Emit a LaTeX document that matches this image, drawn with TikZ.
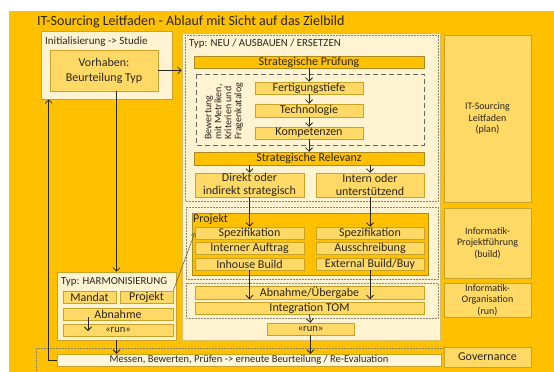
\documentclass[tikz,border=0pt]{standalone}
\usepackage{fontspec}
\setmainfont{Carlito}
\usetikzlibrary{arrows.meta}
\definecolor{bgorange}{HTML}{FFC000}
\definecolor{cream}{HTML}{FFF3D2}
\definecolor{paper}{HTML}{FFF6DC}
\definecolor{midfill}{HTML}{FFD966}
\definecolor{edge}{HTML}{C9A227}
\definecolor{ink}{HTML}{2A261E}
\definecolor{dotgray}{HTML}{8A8470}

\begin{document}
\begin{tikzpicture}[x=1pt,y=-1pt,
  every node/.style={inner sep=0pt, text=ink},
  panel/.style={draw=edge, fill=cream, line width=0.6pt},
  box/.style={draw=edge, fill=midfill, line width=0.5pt, font=\fontsize{12}{12.5}\selectfont, align=center},
  bar/.style={draw=edge!85!black, fill=bgorange, line width=0.5pt, font=\fontsize{12}{12.5}\selectfont},
  band/.style={draw=dotgray, densely dotted, line width=0.5pt},
  lbl/.style={anchor=west, font=\fontsize{10.8}{12}\selectfont},
  side/.style={draw=edge, fill=midfill, line width=0.5pt, font=\fontsize{10}{11.5}\selectfont, align=center, minimum width=87pt},
  arr/.style={draw=ink, line width=0.8pt, -{Straight Barb[length=3.5pt,width=7pt]}},
  thinarr/.style={draw=ink!80, line width=0.5pt, -{Straight Barb[length=3pt,width=5pt]}},
]
\useasboundingbox (0,0) rectangle (554,372);
\fill[white] (0,0) rectangle (554,372);
\fill[bgorange] (9,11) rectangle (554,372);

% title
\node[anchor=west, font=\fontsize{14}{16}\selectfont] (title) at (37,22)
  {IT-Sourcing Leitfaden - Ablauf mit Sicht auf das Zielbild};

% ---- containers ----
\node[panel, minimum width=131pt, minimum height=68pt] (init) at (106.5,65) {};
\node[lbl, font=\fontsize{11}{12}\selectfont] (initlbl) at (45,42) {Initialisierung -> Studie};
\node[box, minimum width=108pt, minimum height=41pt, font=\fontsize{12}{15}\selectfont] (vorhaben) at (104,70.5)
  {Vorhaben:\\Beurteilung Typ};

\node[panel, draw=edge!70, minimum width=258pt, minimum height=307pt] (big) at (311,186.5) {};
\draw[band] (185,35) rectangle (438,201);
\draw[band] (186,207) rectangle (438,279);
\draw[band] (186,283) rectangle (438,318);
\draw[band] (36,378) -- (36,348) -- (443,348);

\node[lbl] (typneu) at (189,44) {Typ: NEU / AUSBAUEN / ERSETZEN};

% ---- plan section ----
\node[bar, minimum width=230pt, minimum height=12pt] (pruef) at (309,62) {Strategische Prüfung};
\draw[draw=ink!70, dashed, dash pattern=on 5pt off 3pt, line width=0.6pt] (196,74) rectangle (424,145);
\node[rotate=90, anchor=west, align=left, font=\fontsize{10}{10}\selectfont] (bewert) at (224,140)
  {Bewertung\\mit Metriken,\\Kriterien und\\Fragenkatalog};
\node[box, minimum width=108pt, minimum height=12pt] (fert) at (309,88) {Fertigungstiefe};
\node[box, minimum width=108pt, minimum height=13pt] (tech) at (309,110.5) {Technologie};
\node[box, minimum width=108pt, minimum height=12pt] (komp) at (309,133) {Kompetenzen};
\node[bar, minimum width=230pt, minimum height=13pt] (relev) at (309,158.5) {Strategische Relevanz};
\node[box, minimum width=109pt, minimum height=24pt, font=\fontsize{12}{13}\selectfont] (direkt) at (249.5,185)
  {Direkt oder\\indirekt strategisch};
\node[box, minimum width=108pt, minimum height=24pt, font=\fontsize{12}{13}\selectfont] (intern) at (370,185)
  {Intern oder\\unterstützend};

% ---- build section ----
\node[draw=edge!85!black, fill=bgorange, line width=0.5pt, minimum width=236pt, minimum height=62pt] (projekt) at (310,244) {};
\node[lbl, font=\fontsize{12}{13}\selectfont] (projlbl) at (193,219.5) {Projekt};
\node[box, minimum width=109pt, minimum height=12pt] (spezL) at (249.5,233) {Spezifikation};
\node[box, minimum width=109pt, minimum height=12pt] (intauf) at (249.5,248) {Interner Auftrag};
\node[box, minimum width=109pt, minimum height=12pt] (inhouse) at (249.5,264) {Inhouse Build};
\node[box, minimum width=108pt, minimum height=12pt] (spezR) at (370,233) {Spezifikation};
\node[box, minimum width=108pt, minimum height=12pt] (aussch) at (370,248) {Ausschreibung};
\node[box, minimum width=108pt, minimum height=12pt] (extern) at (370,264) {External Build/Buy};

% ---- run section ----
\node[box, minimum width=229pt, minimum height=13pt] (abn) at (309.5,292.5) {Abnahme/Übergabe};
\node[box, minimum width=229pt, minimum height=12pt] (tom) at (309.5,308) {Integration TOM};
\node[box, minimum width=87pt, minimum height=12pt, font=\fontsize{10.5}{12}\selectfont] (run) at (310.5,329) {«run»};

% ---- harmonisation ----
\node[panel, minimum width=119pt, minimum height=68pt] (harm) at (116.5,306) {};
\node[lbl] (harmlbl) at (61,282) {Typ: HARMONISIERUNG};
\node[box, minimum width=53pt, minimum height=12pt] (mandat) at (89.5,297) {Mandat};
\node[box, minimum width=53pt, minimum height=12pt] (hproj) at (146.5,297) {Projekt};
\node[box, minimum width=110pt, minimum height=12pt] (habn) at (118,314) {Abnahme};
\node[box, minimum width=110pt, minimum height=12pt, font=\fontsize{10.5}{12}\selectfont] (hrun) at (118,330) {«run»};

% ---- governance ----
\node[draw=edge, fill=paper, line width=0.5pt, minimum width=384pt, minimum height=12pt,
      font=\fontsize{10.5}{11}\selectfont] (messen) at (249,360)
  {Messen, Bewerten, Prüfen -> erneute Beurteilung / Re-Evaluation};

% ---- right column ----
\node[side, minimum height=167pt] (splan) at (487.5,118.5) {IT-Sourcing\\Leitfaden\\(plan)};
\node[side, minimum height=70pt] (sbuild) at (487.5,243) {Informatik-\\Projektführung\\(build)};
\node[side, minimum height=34pt] (srun) at (487.5,300) {Informatik-\\Organisation\\(run)};
\node[side, minimum height=20pt, font=\fontsize{12}{13}\selectfont] (sgov) at (487.5,357) {Governance};

% ---- connectors ----
\draw[arr] (vorhaben.east) -- (vorhaben.east -| big.west);
\draw[arr] (harm.north |- vorhaben.south) -- (harm.north);
\draw[arr] (messen.west) -| ([xshift=8pt]init.south west);
\draw[arr] (harm.south) -- (harm.south |- messen.north);
\draw[arr] (run.south) -- (run.south |- messen.north);

\draw[arr] (pruef.south) -- (fert.north);
\draw[arr] (fert.south) -- (tech.north);
\draw[arr] (tech.south) -- (komp.north);
\draw[arr] (komp.south) -- (relev.north);
\draw[arr] (relev.south -| direkt.north) -- (direkt.north);
\draw[arr] (relev.south -| intern.north) -- (intern.north);
\draw[arr] (direkt.south) -- (spezL.north);
\draw[arr] (intern.south) -- (spezR.north);
\draw[arr] (inhouse.south) -- (inhouse.south |- abn.south);
\draw[arr] (extern.south) -- (extern.south |- abn.south);
\draw[arr] (tom.south) -- (run.north);

\draw[thinarr] (hproj.north east) -- (spezL.west);
\draw[arr] ([xshift=-30pt,yshift=3pt]habn.south) -- ([xshift=-30pt,yshift=-1pt]hrun.center);
\end{tikzpicture}
\end{document}
